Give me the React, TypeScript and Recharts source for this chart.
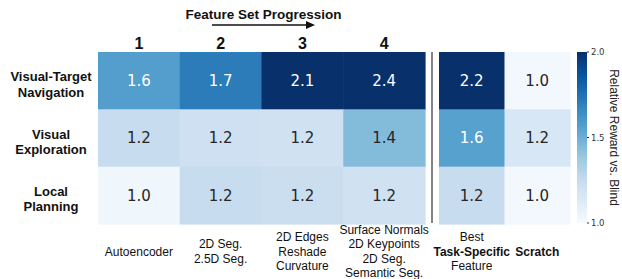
import React from 'react';
import { ScatterChart, Scatter, XAxis, YAxis, BarChart, Bar } from 'recharts';

// row / column labels
const rowLabels = [
  ['Visual-Target', 'Navigation'],
  ['Visual', 'Exploration'],
  ['Local', 'Planning'],
];
const featureSetNames = ['1', '2', '3', '4'];
const featureSetLabels = [
  ['Autoencoder'],
  ['2D Seg.', '2.5D Seg.'],
  ['2D Edges', 'Reshade', 'Curvature'],
  ['Surface Normals', '2D Keypoints', '2D Seg.', 'Semantic Seg.'],
];
const baselineLabels = [['Best', 'Task-Specific', 'Feature'], ['Scratch']];
const boldLines = ['Task-Specific', 'Scratch'];

// relative reward vs. blind, one array per task (feature sets 1-4)
const navigation = [1.57, 1.71, 2.1, 2.4];
const exploration = [1.24, 1.21, 1.2, 1.44];
const planning = [1.04, 1.24, 1.23, 1.2];
// baselines, one array per column (navigation, exploration, planning)
const bestTaskSpecific = [2.2, 1.56, 1.24];
const scratch = [1.02, 1.16, 1.02];

const colorRange = [1.0, 2.0];
const colorTicks = [1.0, 1.5, 2.0];

const BLUES = ['#f7fbff', '#deebf7', '#c6dbef', '#9ecae1', '#6baed6', '#4292c6', '#2171b5', '#08519c', '#08306b'];
const SANS = '"Liberation Sans", Arial, Helvetica, sans-serif';
const DEJAVU = '"DejaVu Sans", sans-serif';

const TOP = 52;
const BOTTOM_AXIS = 55;
const HEIGHT = 279;
const CELL_H = (HEIGHT - TOP - BOTTOM_AXIS) / 3;
const LEFT_W = 327 / 4;
const RIGHT_W = 131 / 2;

function hexToRgb(h: string) {
  return [1, 3, 5].map((i) => parseInt(h.slice(i, i + 2), 16));
}

function blues(v: number) {
  let t = (v - colorRange[0]) / (colorRange[1] - colorRange[0]);
  t = Math.max(0, Math.min(1, t));
  const pos = t * (BLUES.length - 1);
  const i = Math.min(Math.floor(pos), BLUES.length - 2);
  const f = pos - i;
  const a = hexToRgb(BLUES[i]);
  const b = hexToRgb(BLUES[i + 1]);
  const c = a.map((x, k) => Math.round(x + (b[k] - x) * f));
  return `rgb(${c[0]},${c[1]},${c[2]})`;
}

const taskRows = [navigation, exploration, planning];
const rowSeries = taskRows.map((r, row) => r.map((value, col) => ({ col, row, value })));
const baselineCells = [bestTaskSpecific, scratch].flatMap((c, col) =>
  c.map((value, row) => ({ col, row, value }))
);

const makeCell = (w: number) => (props: any) => {
  const { cx, cy, payload } = props;
  const v = payload.value;
  return (
    <g>
      <rect x={cx - w / 2} y={cy - CELL_H / 2} width={w + 0.6} height={CELL_H + 0.6} fill={blues(v)} />
      <text
        x={cx}
        y={cy + 5.4}
        textAnchor="middle"
        fontFamily={DEJAVU}
        fontSize={15}
        fill={v > 1.5 ? '#ffffff' : '#262626'}
      >
        {v.toFixed(1)}
      </text>
    </g>
  );
};

const RowTick = (props: any) => {
  const { y, payload } = props;
  const lines = rowLabels[payload.value] || [];
  return (
    <text textAnchor="middle" fontFamily={SANS} fontWeight="bold" fontSize={13} fill="#111">
      {lines.map((l, i) => (
        <tspan key={i} x={51} y={y + 0.5 + i * 15.5}>
          {l}
        </tspan>
      ))}
    </text>
  );
};

const TopTick = (props: any) => {
  const { x, payload } = props;
  return (
    <text x={x} y={48.7} textAnchor="middle" fontFamily={SANS} fontWeight="bold" fontSize={16} fill="#111">
      {featureSetNames[payload.value]}
    </text>
  );
};

const makeBottomTick = (labels: string[][]) => (props: any) => {
  const { x, payload } = props;
  const lines = labels[payload.value] || [];
  const n = lines.length;
  return (
    <text textAnchor="middle" fontFamily={SANS} fontSize={12} fill="#111">
      {lines.map((l, i) => (
        <tspan
          key={i}
          x={x}
          y={255.5 + (i - (n - 1) / 2) * 14.5}
          fontWeight={boldLines.includes(l) ? 'bold' : 'normal'}
        >
          {l}
        </tspan>
      ))}
    </text>
  );
};

const ColorbarLabel = (props: any) => {
  const vb = props.viewBox || {};
  const x = (vb.x ?? 17) + 23;
  const y = (vb.y ?? TOP) + (vb.height ?? 171) / 2;
  return (
    <text
      x={x}
      y={y}
      transform={`rotate(90 ${x} ${y})`}
      textAnchor="middle"
      fontFamily={SANS}
      fontSize={12}
      fill="#222"
    >
      Relative Reward vs. Blind
    </text>
  );
};

export default function App() {
  return (
    <div style={{ position: 'absolute', left: 0, top: 0, width: 622, height: HEIGHT, background: '#fff' }}>
      <div style={{ position: 'absolute', left: 0, top: 0 }}>
        <ScatterChart width={436} height={HEIGHT} margin={{ top: 0, right: 11, bottom: 0, left: 0 }}>
          <XAxis
            xAxisId="bottom"
            dataKey="col"
            type="number"
            domain={[-0.5, 3.5]}
            ticks={[0, 1, 2, 3]}
            interval={0}
            height={BOTTOM_AXIS}
            axisLine={false}
            tickLine={false}
            tick={makeBottomTick(featureSetLabels)}
          />
          <XAxis
            xAxisId="top"
            dataKey="col"
            orientation="top"
            type="number"
            domain={[-0.5, 3.5]}
            ticks={[0, 1, 2, 3]}
            interval={0}
            height={TOP}
            axisLine={false}
            tickLine={false}
            tick={<TopTick />}
          />
          <YAxis
            dataKey="row"
            type="number"
            domain={[-0.5, 2.5]}
            ticks={[0, 1, 2]}
            interval={0}
            reversed
            width={98}
            axisLine={false}
            tickLine={false}
            tick={<RowTick />}
          />
          {rowSeries.map((d, i) => (
            <Scatter
              key={i}
              xAxisId={i === 0 ? 'top' : 'bottom'}
              data={d}
              shape={makeCell(LEFT_W)}
              isAnimationActive={false}
            />
          ))}
        </ScatterChart>
      </div>
      <div style={{ position: 'absolute', left: 409, top: 0 }}>
        <ScatterChart width={171} height={HEIGHT} margin={{ top: TOP, right: 10, bottom: 0, left: 30 }}>
          <XAxis
            dataKey="col"
            type="number"
            domain={[-0.5, 1.5]}
            ticks={[0, 1]}
            interval={0}
            height={BOTTOM_AXIS}
            axisLine={false}
            tickLine={false}
            tick={makeBottomTick(baselineLabels)}
          />
          <YAxis dataKey="row" type="number" domain={[-0.5, 2.5]} reversed hide />
          <Scatter data={baselineCells} shape={makeCell(RIGHT_W)} isAnimationActive={false} />
        </ScatterChart>
      </div>
      <div style={{ position: 'absolute', left: 570, top: 0 }}>
        <BarChart
          width={52}
          height={HEIGHT}
          data={[{ name: 'scale', range: colorRange }]}
          margin={{ top: TOP, right: 0, bottom: 56, left: 7 }}
          barCategoryGap={0}
        >
          <defs>
            <linearGradient id="bluesGrad" x1="0" y1="1" x2="0" y2="0">
              {BLUES.map((c, i) => (
                <stop key={i} offset={i / (BLUES.length - 1)} stopColor={c} />
              ))}
            </linearGradient>
          </defs>
          <XAxis dataKey="name" hide />
          <YAxis
            orientation="right"
            type="number"
            domain={colorRange}
            ticks={colorTicks}
            interval={0}
            width={35}
            tickSize={2}
            tickMargin={2}
            axisLine={false}
            tickLine={{ stroke: '#333' }}
            tick={{ fontSize: 8.5, fontFamily: DEJAVU, fill: '#333' }}
            tickFormatter={(v: number) => v.toFixed(1)}
            label={<ColorbarLabel />}
          />
          <Bar dataKey="range" fill="url(#bluesGrad)" isAnimationActive={false} />
        </BarChart>
      </div>
      <svg
        width={622}
        height={HEIGHT}
        style={{ position: 'absolute', left: 0, top: 0, pointerEvents: 'none' }}
      >
        <text x={263.5} y={18.5} textAnchor="middle" fontFamily={SANS} fontWeight="bold" fontSize={13.5} fill="#111">
          Feature Set Progression
        </text>
        <line x1={212} y1={25} x2={307} y2={25} stroke="#111" strokeWidth={1.7} />
        <polygon points="315,25 306,21 306,29" fill="#111" />
        <line x1={432} y1={52} x2={432} y2={223} stroke="#777" strokeWidth={1.8} />
      </svg>
    </div>
  );
}
